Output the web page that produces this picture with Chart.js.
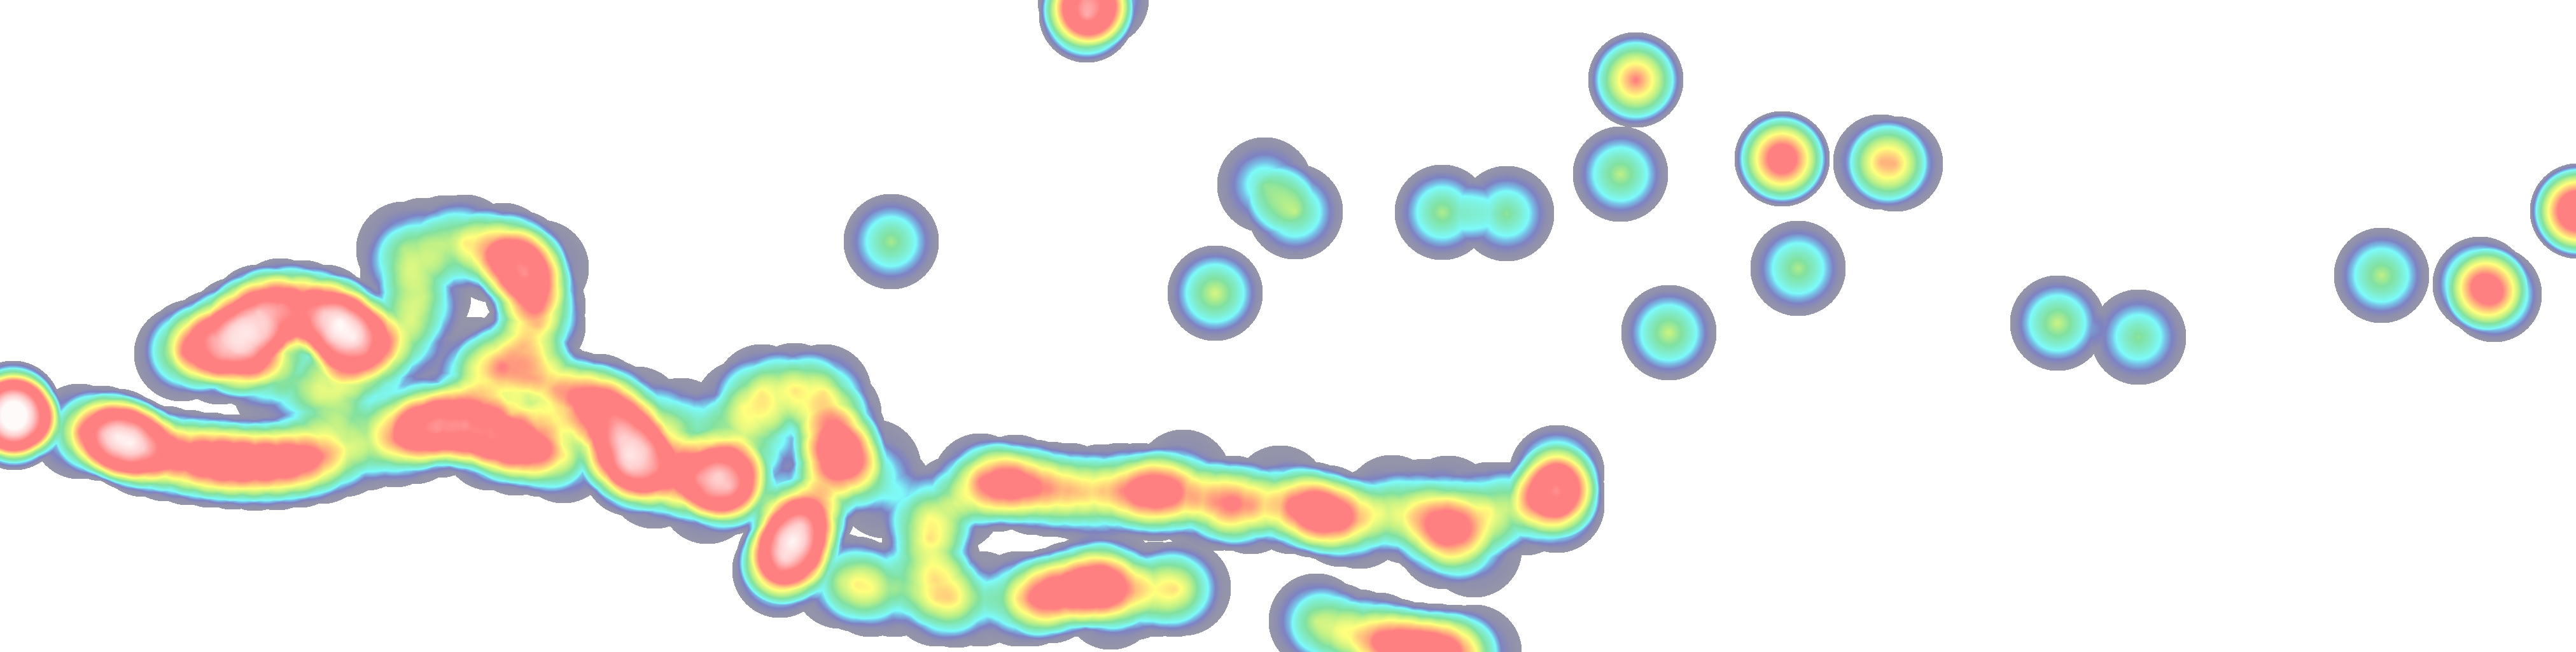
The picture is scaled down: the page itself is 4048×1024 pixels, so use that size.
<!DOCTYPE html>
<html>
<head>
<meta charset="utf-8">
<title>Heat map</title>
<script src="https://cdn.jsdelivr.net/npm/chart.js@4"></script>
<style>
    html, body { margin: 0; padding: 0; background: #fff; overflow: hidden; }
    canvas { display: block; }
</style>
</head>
<body>
<canvas id="heat" width="4048" height="1024"></canvas>
<script>
// Points: position and heat weight. Same line = same group in all three.
const xValues = [
    1707, 1730, 1705, 2570, 2546, 1400, 1909, 1987, 2035, 2266, 2367, 2622, 2800, 2955, 2978, 2825, 3233, 3360, 3742, 3897, 3919, 4050, // lone spots
    20, 22, 22, // far left
    124, 160, 185, 205, 225, 260, 295, 330, 365, 400, 435, 470, 505, 540, 575, // lower left strip
    285, 300, 335, 345, 370, 375, 405, 415, 400, 440, 475, 510, 535, 555, 575, 525, // upper lobe
    634, 665, 700, 730, 640, 665, 648, 625, 615, 470, 500, 560, 440, // column
    775, 790, 815, 825, 835, 845, 845, 850, // upper red
    820, 788, 837, 760, 870, 905, 940, 730, 531, 500, 745, // below the hole
    620, 650, 650, 690, 690, 730, 730, 770, 770, 810, 810, 850, 885, // middle red
    930, 960, 970, 975, 985, 990, 1010, 1030, 1065, 1100, 1130, 1145, 1165, 1111, 1028, 1000, 1035, 1070, 1100, // right red
    1270, 1258, 1245, 1232, 1225, // lower lobe
    1197, 1248, 1294, 1165, 1170, 1310, 1317, 1318, 1318, 1335, 1372, 1390, 1210, 1270, // box
    1458, 1460, 1465, 1470, 1472, 1490, 1345, 1320, 1368, 1405, 1502, 1540, 1500, // bottom column
    1600, 1620, 1650, 1680, 1710, 1740, 1745, 1738, 1780, 1815, 1845, 1859, // bottom pair
    1540, 1565, 1595, 1625, 1650, 1680, 1700, 1730, 1760, 1790, 1815, 1840, 1859, 1880, 1910, 1937, 1965, 2011, 2030, 2062, 2085, 2108, 2136, // long strip
    2165, 2187, 2210, 2238, 2250, 2275, 2278, 2270, 2300, 2316, 2340, 2365, 2395, 2446, 2446, 2446, // long strip end
    2068, 2100, 2135, 2165, 2195, 2225, 2255, 2285, 2316 // bottom right
];
const yValues = [
    23, -2, 0, 125, 273, 379, 460, 290, 332, 333, 335, 522, 249, 254, 257, 421, 507, 529, 432, 446, 462, 331,
    641, 652, 663,
    677, 680, 685, 695, 705, 712, 718, 722, 725, 727, 726, 722, 716, 705, 695,
    555, 545, 530, 560, 510, 550, 490, 530, 568, 480, 483, 490, 505, 530, 555, 530,
    391, 385, 381, 380, 425, 465, 500, 530, 560, 600, 605, 620, 610,
    400, 393, 405, 430, 455, 480, 510, 420,
    545, 576, 593, 590, 610, 625, 630, 600, 617, 625, 572,
    690, 665, 685, 660, 675, 662, 670, 672, 695, 690, 703, 705, 715,
    640, 640, 665, 690, 715, 735, 700, 735, 750, 750, 745, 765, 755, 779, 755, 650, 668, 668, 690,
    800, 825, 850, 875, 895,
    615, 613, 615, 640, 680, 650, 680, 710, 740, 742, 733, 770, 690, 693,
    810, 845, 880, 910, 940, 940, 917, 912, 925, 925, 942, 940, 790,
    940, 940, 935, 925, 915, 920, 945, 895, 930, 925, 925, 923,
    755, 760, 757, 765, 768, 770, 775, 772, 770, 770, 775, 772, 749, 785, 790, 790, 795, 774, 795, 800, 805, 815, 818,
    805, 789, 810, 795, 830, 790, 818, 850, 840, 863, 800, 800, 797, 742, 770, 793,
    975, 990, 1000, 1005, 1015, 1020, 1022, 1024, 1024
];
const weights = [
    0.85, 0.35, 0.45, 0.72, 0.36, 0.33, 0.4, 0.25, 0.33, 0.34, 0.3, 0.38, 1.0, 0.36, 0.36, 0.34, 0.38, 0.3, 0.36, 0.55, 0.52, 1.2,
    1.0, 0.6, 1.0,
    0.3, 0.5, 0.7, 0.7, 0.5, 0.35, 0.4, 0.5, 0.5, 0.45, 0.45, 0.45, 0.35, 0.2, 0.15,
    0.25, 0.3, 0.5, 0.35, 0.5, 0.45, 0.7, 0.5, 0.35, 0.5, 0.45, 0.45, 0.8, 0.8, 0.4, 0.3,
    0.18, 0.08, 0.12, 0.3, 0.2, 0.22, 0.2, 0.2, 0.15, 0.08, 0.15, 0.12, 0.1,
    0.2, 0.3, 0.4, 0.5, 0.25, 0.25, 0.3, 0.15,
    0.2, 0.4, 0.3, 0.15, 0.3, 0.3, 0.25, 0.1, 0.2, 0.1, 0.1,
    0.3, 0.45, 0.2, 0.35, 0.35, 0.35, 0.3, 0.35, 0.35, 0.45, 0.25, 0.4, 0.3,
    0.2, 0.35, 0.3, 0.35, 0.6, 0.6, 0.25, 0.3, 0.3, 0.35, 0.6, 0.6, 0.3, 0.2, 0.2, 0.15, 0.15, 0.15, 0.15,
    0.45, 0.65, 0.7, 0.7, 0.45,
    0.3, 0.3, 0.3, 0.2, 0.25, 0.15, 0.35, 0.55, 0.35, 0.1, 0.15, 0.12, 0.1, 0.1,
    0.2, 0.32, 0.12, 0.15, 0.2, 0.15, 0.25, 0.15, 0.18, 0.15, 0.15, 0.1, 0.2,
    0.15, 0.3, 0.45, 0.35, 0.35, 0.45, 0.2, 0.15, 0.15, 0.15, 0.3, 0.15,
    0.3, 0.4, 0.35, 0.3, 0.2, 0.2, 0.2, 0.2, 0.2, 0.35, 0.4, 0.3, 0.15, 0.15, 0.2, 0.45, 0.25, 0.1, 0.35, 0.45, 0.35, 0.35, 0.15,
    0.15, 0.1, 0.2, 0.1, 0.2, 0.15, 0.25, 0.28, 0.2, 0.15, 0.22, 0.15, 0.15, 0.45, 0.6, 0.45,
    0.3, 0.15, 0.2, 0.35, 0.4, 0.4, 0.4, 0.4, 0.2
];

const points = xValues.map((x, i) => ({ x: x, y: yValues[i], v: weights[i] }));

// heat value -> colour seen on the white page
const heatStops = [
    [0, 150, 150, 168],
    [0.05, 142, 142, 175],
    [0.09, 125, 130, 195],
    [0.13, 120, 190, 230],
    [0.16, 125, 250, 250],
    [0.22, 128, 235, 200],
    [0.28, 130, 225, 160],
    [0.36, 190, 240, 135],
    [0.47, 255, 255, 125],
    [0.58, 255, 195, 125],
    [0.7, 255, 128, 128],
    [1.15, 255, 128, 128],
    [1.5, 255, 205, 205],
    [1.85, 255, 250, 250]
];

function heatColour(v) {
    for (let i = 1; i < heatStops.length; i++) {
        const a = heatStops[i - 1], b = heatStops[i];
        if (v <= b[0]) {
            const t = (v - a[0]) / (b[0] - a[0]);
            return [a[1] + (b[1] - a[1]) * t, a[2] + (b[2] - a[2]) * t, a[3] + (b[3] - a[3]) * t];
        }
    }
    const last = heatStops[heatStops.length - 1];
    return [last[1], last[2], last[3]];
}

// Adds up a cone per bubble at the place the scales gave it, then colours the sum
const heatPlugin = {
    id: 'heat',
    afterDatasetsDraw(chart) {
        const ctx = chart.ctx;
        const w = chart.width, h = chart.height;
        const field = new Float32Array(w * h);
        const meta = chart.getDatasetMeta(0);
        meta.data.forEach((el, i) => {
            const r = el.options.radius;
            const v = chart.data.datasets[0].data[i].v;
            const x0 = Math.max(0, Math.floor(el.x - r)), x1 = Math.min(w - 1, Math.ceil(el.x + r));
            const y0 = Math.max(0, Math.floor(el.y - r)), y1 = Math.min(h - 1, Math.ceil(el.y + r));
            for (let py = y0; py <= y1; py++) {
                for (let px = x0; px <= x1; px++) {
                    const d = Math.hypot(px - el.x, py - el.y);
                    if (d < r) field[py * w + px] += v * (1 - d / r);
                }
            }
        });
        const img = ctx.createImageData(w, h);
        for (let i = 0; i < field.length; i++) {
            if (field[i] <= 0) continue;
            const c = heatColour(field[i]);
            img.data[i * 4] = c[0];
            img.data[i * 4 + 1] = c[1];
            img.data[i * 4 + 2] = c[2];
            img.data[i * 4 + 3] = 255;
        }
        ctx.putImageData(img, 0, 0);
    }
};

new Chart(document.getElementById('heat'), {
    type: 'bubble',
    data: {
        datasets: [{
            label: 'Heat',
            data: points,
            radius: 75,
            backgroundColor: 'rgba(0, 0, 0, 0)',
            borderWidth: 0,
            clip: false
        }]
    },
    options: {
        responsive: false,
        animation: false,
        layout: { padding: 0, autoPadding: false },
        plugins: { legend: { display: false }, tooltip: { enabled: false } },
        scales: {
            x: { type: 'linear', min: 0, max: 4048, display: false },
            y: { type: 'linear', min: 0, max: 1024, reverse: true, display: false }
        }
    },
    plugins: [heatPlugin]
});
</script>
</body>
</html>
